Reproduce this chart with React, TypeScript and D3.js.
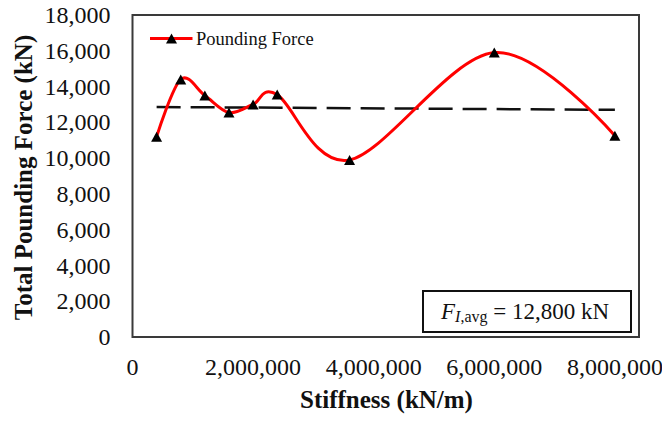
import React from "react";
import * as d3 from "d3";

// Stiffness values (kN/m) and total pounding force (kN)
const stiffness = [400000, 800000, 1200000, 1600000, 2000000, 2400000, 3600000, 6000000, 8000000];
const poundingForce = [11200, 14400, 13500, 12550, 13000, 13550, 9900, 15900, 11250];

const xTicks = [0, 2000000, 4000000, 6000000, 8000000];
const yTicks = [0, 2000, 4000, 6000, 8000, 10000, 12000, 14000, 16000, 18000];

const seriesName = "Pounding Force";
const avgValue = 12800;

const W = 662;
const H = 421;
const plot = { left: 132.5, right: 639, top: 15, bottom: 337 };

const fmt = d3.format(",");

// Least-squares linear trend over the series
function linearFit(xs: number[], ys: number[]) {
  const mx = d3.mean(xs) as number;
  const my = d3.mean(ys) as number;
  let sxy = 0;
  let sxx = 0;
  xs.forEach((x, i) => {
    sxy += (x - mx) * (ys[i] - my);
    sxx += (x - mx) * (x - mx);
  });
  const slope = sxy / sxx;
  return (x: number) => my + slope * (x - mx);
}

function triangle(cx: number, cy: number, w = 11, h = 10) {
  return `M${cx},${cy - h / 2}L${cx + w / 2},${cy + h / 2}L${cx - w / 2},${cy + h / 2}Z`;
}

export default function App() {
  const x = d3.scaleLinear().domain([0, 8400000]).range([plot.left, plot.right]);
  const y = d3.scaleLinear().domain([0, 18000]).range([plot.bottom, plot.top]);

  const pts: [number, number][] = stiffness.map((s, i) => [s, poundingForce[i]]);
  const line = d3
    .line<[number, number]>()
    .x((d) => x(d[0]))
    .y((d) => y(d[1]))
    .curve(d3.curveCardinal.tension(0));

  const trend = linearFit(stiffness, poundingForce);
  const x0 = stiffness[0];
  const x1 = stiffness[stiffness.length - 1];

  const serif = "'Liberation Serif', 'Times New Roman', serif";

  return (
    <svg
      width={W}
      height={H}
      style={{ position: "absolute", left: 0, top: 0, background: "#fff" }}
      fontFamily={serif}
    >
      <rect x={0} y={0} width={W} height={H} fill="#fff" />

      {/* plot frame */}
      <rect
        x={plot.left}
        y={plot.top}
        width={plot.right - plot.left}
        height={plot.bottom - plot.top}
        fill="none"
        stroke="#3a3a3a"
        strokeWidth={2}
      />

      {/* y tick labels */}
      {yTicks.map((t) => (
        <text key={t} x={110.5} y={y(t)} dy="0.34em" textAnchor="end" fontSize={24} fill="#111">
          {fmt(t)}
        </text>
      ))}

      {/* x tick labels */}
      {xTicks.map((t) => (
        <text key={t} x={x(t)} y={375} textAnchor="middle" fontSize={24} fill="#111">
          {fmt(t)}
        </text>
      ))}

      {/* axis titles */}
      <text
        transform={`translate(31.5,177.5) rotate(-90)`}
        textAnchor="middle"
        fontSize={25}
        fontWeight="bold"
        fill="#111"
      >
        Total Pounding Force (kN)
      </text>
      <text x={386.5} y={408} textAnchor="middle" fontSize={25} fontWeight="bold" fill="#111">
        Stiffness (kN/m)
      </text>

      {/* linear trend */}
      <line
        x1={x(x0)}
        y1={y(trend(x0))}
        x2={x(x1)}
        y2={y(trend(x1))}
        stroke="#111"
        strokeWidth={2.5}
        strokeDasharray="24 10"
      />

      {/* smoothed series */}
      <path d={line(pts) || ""} fill="none" stroke="#ff0000" strokeWidth={3} />
      {pts.map((d, i) => (
        <path key={i} d={triangle(x(d[0]), y(d[1]))} fill="#000" />
      ))}

      {/* legend */}
      <line x1={150} y1={38.5} x2={192.5} y2={38.5} stroke="#ff0000" strokeWidth={3} />
      <path d={triangle(171.5, 38.5)} fill="#000" />
      <text x={196} y={44.5} fontSize={18.5} fill="#111">
        {seriesName}
      </text>

      {/* average annotation */}
      <rect x={423} y={291} width={208} height={41} fill="#fff" stroke="#111" strokeWidth={2} />
      <text x={441} y={319} fontSize={23} fill="#111">
        <tspan fontStyle="italic">F</tspan>
        <tspan fontStyle="italic" fontSize={16} dy={3}>I</tspan>
        <tspan fontSize={16}>,avg</tspan>
        <tspan dy={-3}>{` = ${fmt(avgValue)} kN`}</tspan>
      </text>
    </svg>
  );
}
